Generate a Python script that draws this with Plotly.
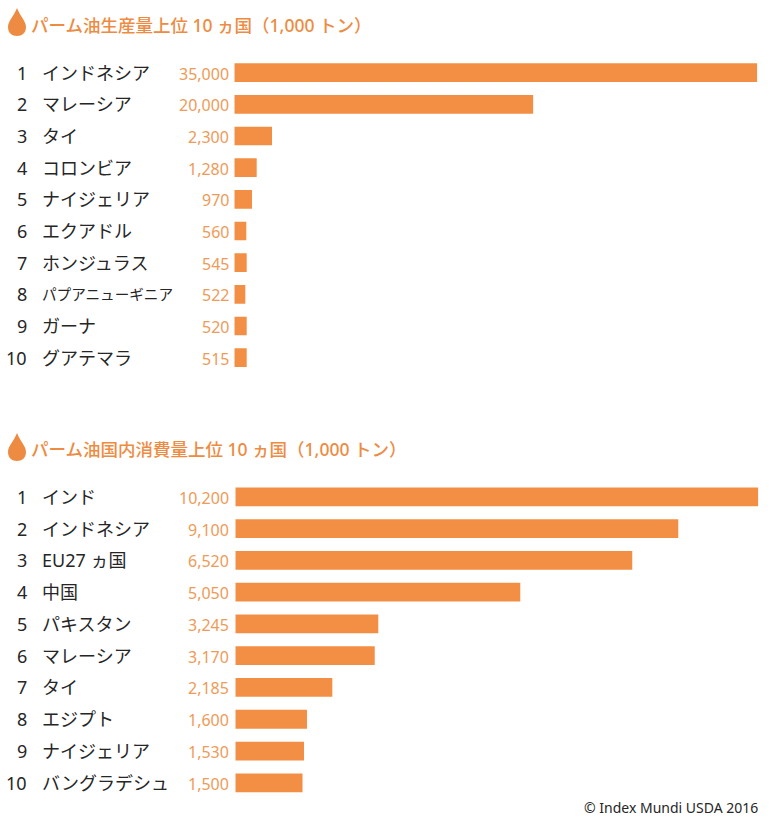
import plotly.graph_objects as go

W = 780
H = 824

# top chart: palm oil production
prod_rank = ['1', '2', '3', '4', '5', '6', '7', '8', '9', '10']
prod_names = ['インドネシア', 'マレーシア', 'タイ', 'コロンビア', 'ナイジェリア',
              'エクアドル', 'ホンジュラス', 'パプアニューギニア', 'ガーナ', 'グアテマラ']
prod_labels = ['35,000', '20,000', '2,300', '1,280', '970', '560', '545', '522', '520', '515']
# the bars in the picture are not drawn to the printed figures, these are read off the bar ends
prod_bars = [35000, 20000, 2523, 1499, 1184, 803, 830, 736, 830, 830]

# bottom chart: palm oil domestic consumption
cons_rank = ['1', '2', '3', '4', '5', '6', '7', '8', '9', '10']
cons_names = ['インド', 'インドネシア', 'EU27 ヵ国', '中国', 'パキスタン',
              'マレーシア', 'タイ', 'エジプト', 'ナイジェリア', 'バングラデシュ']
cons_labels = ['10,200', '9,100', '6,520', '5,050', '3,245', '3,170', '2,185', '1,600', '1,530', '1,500']
cons_bars = [10200, 8639, 7742, 5558, 2789, 2719, 1892, 1398, 1340, 1311]

title_prod = 'パーム油生産量上位 10 ヵ国（1,000 トン）'
title_cons = 'パーム油国内消費量上位 10 ヵ国（1,000 トン）'
source = '© Index Mundi USDA 2016'

BAR = '#F38F45'
VALUE = '#EE9B58'
TITLE = '#EE8B42'
INK = '#262626'
FONT = 'Noto Sans, Noto Sans CJK JP, sans-serif'


def px(x):
    return x / W


def py(y):
    return 1 - y / H


def drop(top):
    # teardrop icon next to a title
    pts = [(17, top), (14, top + 8), (8, top + 13), (8, top + 19), (8, top + 25), (12, top + 28),
           (17, top + 28), (22, top + 28), (26, top + 25), (26, top + 19), (26, top + 13), (20, top + 8), (17, top)]
    p = [f'{px(a):.5f} {py(b):.5f}' for a, b in pts]
    path = f'M {p[0]} C {p[1]} {p[2]} {p[3]} C {p[4]} {p[5]} {p[6]} C {p[7]} {p[8]} {p[9]} C {p[10]} {p[11]} {p[12]} Z'
    return dict(type='path', xref='paper', yref='paper', path=path, fillcolor=TITLE, line_width=0)


fig = go.Figure()
fig.add_trace(go.Bar(x=prod_bars, y=prod_names, orientation='h', marker_color=BAR,
                     marker_line_width=0, xaxis='x', yaxis='y', showlegend=False))
fig.add_trace(go.Bar(x=cons_bars, y=cons_names, orientation='h', marker_color=BAR,
                     marker_line_width=0, xaxis='x2', yaxis='y2', showlegend=False))

notes = []


def add_rows(ranks, names, labels, yref):
    for i in range(len(names)):
        # the long name is squeezed in the original so it stays clear of the value
        name_size = 14.6 if len(names[i]) > 8 else 18
        notes.append(dict(text=ranks[i], x=px(29), y=i, xref='paper', yref=yref, xanchor='right',
                          showarrow=False, font=dict(size=18, color=INK, family=FONT)))
        notes.append(dict(text=names[i], x=px(39.5), y=i, xref='paper', yref=yref, xanchor='left',
                          showarrow=False, font=dict(size=name_size, color=INK, family=FONT)))
        notes.append(dict(text=labels[i], x=px(230.5), y=i, xref='paper', yref=yref, xanchor='right',
                          showarrow=False, yshift=-1, font=dict(size=16, color=VALUE, family=FONT)))


add_rows(prod_rank, prod_names, prod_labels, 'y')
add_rows(cons_rank, cons_names, cons_labels, 'y2')

notes.append(dict(text=title_prod, x=px(29), y=py(25), xref='paper', yref='paper', xanchor='left', yanchor='middle',
                  showarrow=False, font=dict(size=17.5, color=TITLE, family=FONT, weight=500)))
notes.append(dict(text=title_cons, x=px(29), y=py(449), xref='paper', yref='paper', xanchor='left', yanchor='middle',
                  showarrow=False, font=dict(size=17.5, color=TITLE, family=FONT, weight=500)))
notes.append(dict(text=source, x=px(759.5), y=py(807), xref='paper', yref='paper', xanchor='right', yanchor='middle',
                  showarrow=False, font=dict(size=14, color=INK, family=FONT)))

fig.update_layout(
    width=W, height=H,
    margin=dict(l=0, r=0, t=0, b=0),
    paper_bgcolor='white', plot_bgcolor='white',
    bargap=0.41,
    font=dict(family=FONT),
    annotations=notes,
    shapes=[drop(8), drop(433)],
    xaxis=dict(domain=[px(234.3), px(757.3)], range=[0, 35000], visible=False, anchor='y'),
    yaxis=dict(domain=[py(373.5), py(56.8)], type='category', range=[9.5, -0.5], visible=False, anchor='x'),
    xaxis2=dict(domain=[px(235.3), px(758.3)], range=[0, 10200], visible=False, anchor='y2'),
    yaxis2=dict(domain=[py(798.7), py(480.9)], type='category', range=[9.5, -0.5], visible=False, anchor='x2'),
)

fig.write_html('out.html', config={'displayModeBar': False}, post_script="document.body.style.margin='0';")
